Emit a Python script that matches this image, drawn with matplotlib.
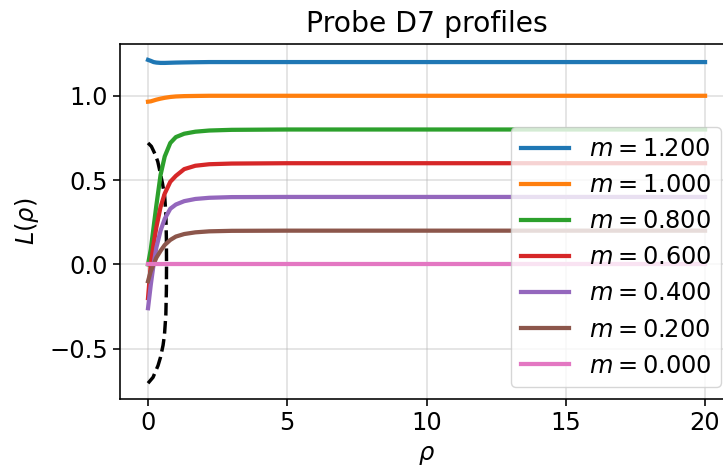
import matplotlib
matplotlib.use('Agg')
import matplotlib.pyplot as plt
import numpy as np

# perfiles L(rho) leidos para cada m
rho = [0.0, 0.1, 0.2, 0.3, 0.45, 0.6, 0.8, 1.0, 1.3, 1.7, 2.2, 3.0, 5.0, 10.0, 20.0]

m_vals = [1.2, 1.0, 0.8, 0.6, 0.4, 0.2, 0.0]

L_12 = [1.213, 1.207, 1.200, 1.197, 1.195, 1.195, 1.196, 1.197, 1.198, 1.199, 1.2, 1.2, 1.2, 1.2, 1.2]
L_10 = [0.965, 0.967, 0.972, 0.977, 0.983, 0.988, 0.993, 0.996, 0.998, 0.999, 1.0, 1.0, 1.0, 1.0, 1.0]
L_08 = [0.0, 0.09, 0.22, 0.35, 0.53, 0.64, 0.72, 0.755, 0.775, 0.787, 0.794, 0.798, 0.8, 0.8, 0.8]
L_06 = [-0.2, 0.0, 0.12, 0.22, 0.34, 0.42, 0.49, 0.525, 0.565, 0.585, 0.594, 0.598, 0.6, 0.6, 0.6]
L_04 = [-0.26, -0.12, 0.0, 0.1, 0.2, 0.27, 0.33, 0.355, 0.375, 0.388, 0.395, 0.399, 0.4, 0.4, 0.4]
L_02 = [-0.1, -0.04, 0.0, 0.04, 0.08, 0.115, 0.145, 0.165, 0.18, 0.19, 0.196, 0.199, 0.2, 0.2, 0.2]
L_00 = [0.0] * len(rho)

perfiles = [L_12, L_10, L_08, L_06, L_04, L_02, L_00]

# curva del horizonte (punteada)
rho_h = [0.0, 0.12, 0.25, 0.35, 0.43, 0.52, 0.6, 0.64, 0.66, 0.665, 0.66, 0.64, 0.59, 0.54, 0.45, 0.36, 0.18, 0.0]
L_h = [0.72, 0.70, 0.655, 0.61, 0.55, 0.48, 0.4, 0.3, 0.15, 0.0, -0.15, -0.3, -0.42, -0.48, -0.55, -0.6, -0.67, -0.705]

esc = 1.45  # factor de escala de fuentes y trazos

fig = plt.figure(figsize=(7.23, 4.73), dpi=100)
ax = fig.add_axes([0.1662, 0.1556, 0.8475, 0.752])

ax.plot(rho_h, L_h, 'k--', linewidth=1.7 * esc)
for m, L in zip(m_vals, perfiles):
    ax.plot(rho, L, linewidth=2.1 * esc, label=f'$m = {m:.3f}$')

ax.set_xticks([0, 5, 10, 15, 20])
ax.set_yticks([-0.5, 0.0, 0.5, 1.0])
ax.tick_params(labelsize=12 * esc, length=3.5 * esc, width=0.8 * esc)
for s in ax.spines.values():
    s.set_linewidth(0.8 * esc)
ax.grid(True, alpha=0.35, linewidth=0.9 * esc)

ax.set_title('Probe D7 profiles', fontsize=14 * esc, pad=6 * esc)
ax.set_xlabel(r'$\rho$', fontsize=12 * esc, labelpad=4 * esc)
ax.set_ylabel(r'$L(\rho)$', fontsize=12 * esc, labelpad=4 * esc)
ax.legend(loc='lower right', fontsize=12 * esc)

plt.savefig('out.png', dpi=100)
